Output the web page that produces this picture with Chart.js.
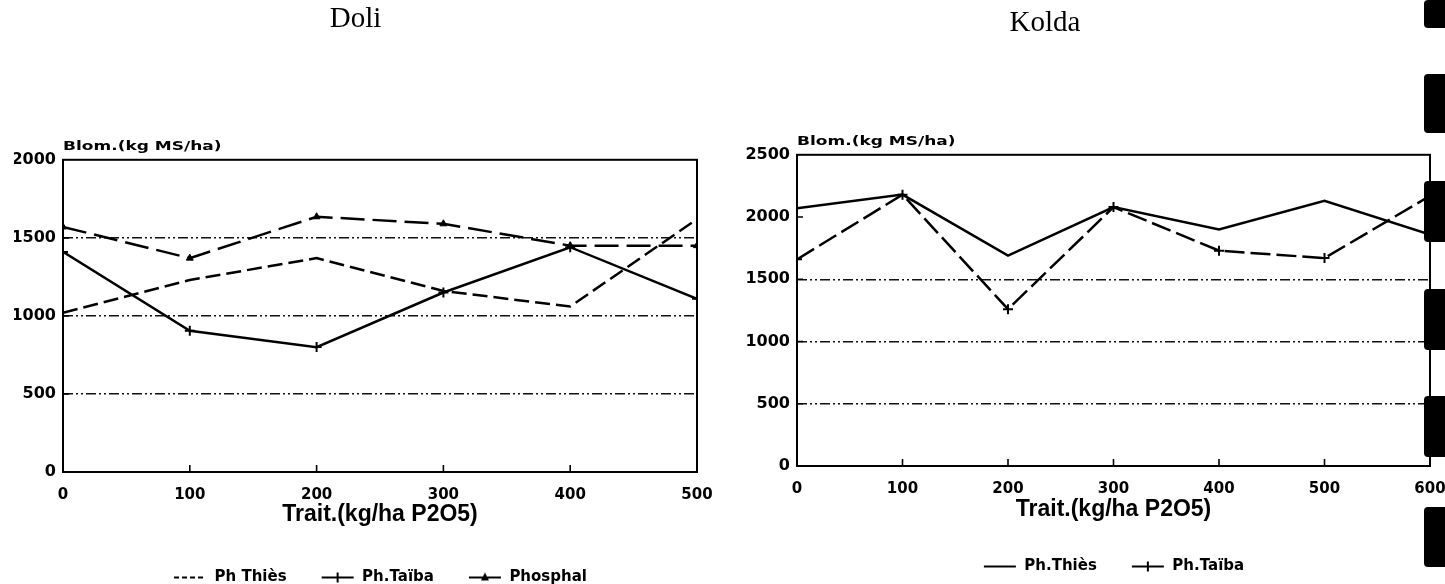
<!DOCTYPE html>
<html>
<head>
<meta charset="utf-8">
<script src="https://cdn.jsdelivr.net/npm/chart.js@4.4.1/dist/chart.umd.min.js"></script>
<style>
  html, body { margin: 0; padding: 0; background: #fff; width: 1445px; height: 584px; overflow: hidden; }
  #doli  { position: absolute; left: 0;     top: 0; }
  #kolda { position: absolute; left: 650px; top: 0; }
  .film { position: absolute; left: 1424px; width: 21px; background: #000; border-radius: 4px 0 0 4px; }
</style>
</head>
<body>
<canvas id="doli" width="720" height="595"></canvas>
<canvas id="kolda" width="795" height="584"></canvas>
<div class="film" style="top:0;height:28px"></div>
<div class="film" style="top:74px;height:59px"></div>
<div class="film" style="top:181px;height:61px"></div>
<div class="film" style="top:289px;height:61px"></div>
<div class="film" style="top:396px;height:61px"></div>
<div class="film" style="top:507px;height:60px"></div>
<script>
// Biomass (kg MS/ha) against phosphate dose (kg/ha P2O5)
const doliDoses    = [0, 100, 200, 300, 400, 500];
const doliThies    = [1020, 1230, 1370, 1160, 1060, 1620];
const doliTaiba    = [1410, 905, 800, 1150, 1440, 1110];
const doliPhosphal = [1570, 1370, 1635, 1590, 1450, 1450];

const koldaDoses = [0, 100, 200, 300, 400, 500, 600];
const koldaThies = [2070, 2180, 1690, 2080, 1900, 2130, 1860];
const koldaTaiba = [1660, 2180, 1260, 2080, 1730, 1670, 2170];

const doliYTicks  = [0, 500, 1000, 1500, 2000];
const koldaYTicks = [0, 500, 1000, 1500, 2000, 2500];
const doliXTicks  = [0, 100, 200, 300, 400, 500];
const koldaXTicks = [0, 100, 200, 300, 400, 500, 600];
const gridLevels  = [500, 1000, 1500];

const yTitle = 'Blom.(kg MS/ha)';
const xTitle = 'Trait.(kg/ha P2O5)';

Chart.defaults.color = '#000';
Chart.defaults.font.family = '"DejaVu Sans", Arial, sans-serif';

const INK = '#000';
const toPoints = (xs, ys) => xs.map((x, i) => ({ x, y: ys[i] }));

// small legend swatch: a line segment with an optional marker in the middle
function swatch(dash, marker) {
  const c = document.createElement('canvas');
  c.width = 34; c.height = 14;
  const g = c.getContext('2d');
  g.strokeStyle = INK; g.fillStyle = INK; g.lineWidth = 2;
  g.setLineDash(dash);
  g.beginPath(); g.moveTo(1, 7); g.lineTo(33, 7); g.stroke();
  g.setLineDash([]);
  if (marker === 'cross') {
    g.beginPath(); g.moveTo(17, 2); g.lineTo(17, 12); g.stroke();
  } else if (marker === 'triangle') {
    g.beginPath(); g.moveTo(17, 2); g.lineTo(21, 10); g.lineTo(13, 10); g.closePath(); g.fill();
  }
  return c;
}

// box around the plot, inward tick marks and the horizontal y-axis caption
const framePlugin = {
  id: 'frame',
  beforeDatasetsDraw(chart) {
    const { ctx, chartArea: a, scales: { x, y } } = chart;
    ctx.save();
    ctx.strokeStyle = INK;
    ctx.lineWidth = 2;
    ctx.strokeRect(a.left, a.top, a.width, a.height);
    ctx.lineWidth = 1.6;
    ctx.beginPath();
    x.ticks.forEach(t => {
      const px = x.getPixelForValue(t.value);
      if (px > a.left + 2 && px < a.right - 2) { ctx.moveTo(px, a.bottom); ctx.lineTo(px, a.bottom - 7); }
    });
    y.ticks.forEach(t => {
      const py = y.getPixelForValue(t.value);
      if (py > a.top + 2 && py < a.bottom - 2) { ctx.moveTo(a.left, py); ctx.lineTo(a.left + 6, py); }
    });
    ctx.stroke();
    ctx.restore();
  },
  afterDraw(chart, args, opts) {
    const { ctx, chartArea: a } = chart;
    ctx.save();
    ctx.font = 'bold 12.5px "DejaVu Sans", Arial, sans-serif';
    ctx.fillStyle = INK;
    ctx.textBaseline = 'alphabetic';
    ctx.translate(a.left, a.top - (opts.gap || 10));
    ctx.scale(1.36, 1);
    ctx.fillText(opts.text || '', 0, 0);
    ctx.restore();
  }
};

function makeChart(id, cfg) {
  const tickFont = { family: '"DejaVu Sans", Arial, sans-serif', size: 15, weight: 'bold' };
  const yTickFont = { family: '"DejaVu Sans", Arial, sans-serif', size: 16, weight: 'bold' };
  return new Chart(document.getElementById(id), {
    type: 'line',
    data: { datasets: cfg.datasets },
    options: {
      responsive: false,
      animation: false,
      events: [],
      layout: { autoPadding: false, padding: cfg.padding },
      elements: { line: { tension: 0, borderWidth: 2.5, borderColor: INK }, point: { radius: 0 } },
      scales: {
        x: {
          type: 'linear',
          min: cfg.xTicks[0], max: cfg.xTicks[cfg.xTicks.length - 1],
          afterBuildTicks: s => { s.ticks = cfg.xTicks.map(v => ({ value: v })); },
          afterFit: s => { s.height = cfg.xHeight; s.paddingLeft = 0; s.paddingRight = 0; },
          grid: { display: false },
          border: { display: false },
          ticks: { font: tickFont, padding: 6, maxRotation: 0, autoSkip: false, color: INK,
                   callback: v => String(v) },
          title: {
            display: true, text: xTitle, color: INK,
            font: { family: '"Liberation Sans", Arial, sans-serif', size: 23, weight: 'bold' },
            padding: { top: 0, bottom: cfg.xTitlePad }
          }
        },
        y: {
          type: 'linear',
          min: cfg.yTicks[0], max: cfg.yTicks[cfg.yTicks.length - 1],
          afterBuildTicks: s => { s.ticks = cfg.yTicks.map(v => ({ value: v })); },
          afterFit: s => { s.width = cfg.yWidth; s.paddingTop = 0; s.paddingBottom = 0; },
          grid: {
            drawTicks: false,
            lineWidth: 1.4,
            color: c => gridLevels.includes(c.tick.value) ? '#111' : 'rgba(0,0,0,0)'
          },
          border: { display: false, dash: [10, 3, 2, 3, 2, 3] },
          ticks: { font: yTickFont, padding: 7, color: INK, callback: v => String(v) }
        }
      },
      plugins: {
        title: {
          display: true, text: cfg.title, color: INK,
          font: { family: '"Liberation Serif", "Times New Roman", serif', size: 29, weight: 'normal' },
          padding: cfg.titlePad
        },
        legend: {
          display: true, position: 'bottom', fullSize: false,
          labels: {
            usePointStyle: true, pointStyleWidth: 34, padding: 34, color: INK,
            font: { family: '"DejaVu Sans", Arial, sans-serif', size: 15, weight: 'bold' },
            generateLabels: ch => ch.data.datasets.map((d, i) => ({
              text: d.label, pointStyle: d.legendSwatch, fontColor: INK,
              hidden: false, datasetIndex: i, lineWidth: 0, strokeStyle: INK, fillStyle: INK
            }))
          }
        },
        tooltip: { enabled: false },
        frame: { text: yTitle, gap: cfg.yTitleGap }
      }
    },
    plugins: [framePlugin]
  });
}

makeChart('doli', {
  title: 'Doli',
  titlePad: { top: 2, bottom: 123 },
  padding: { left: 14, right: 23, top: 0, bottom: 0 },
  yWidth: 49, xHeight: 64, xTitlePad: 8, yTitleGap: 10,
  xTicks: doliXTicks, yTicks: doliYTicks,
  datasets: [
    { label: 'Ph Thiès', data: toPoints(doliDoses, doliThies), borderDash: [15, 6],
      legendSwatch: swatch([5, 3], null) },
    { label: 'Ph.Taïba', data: toPoints(doliDoses, doliTaiba),
      pointStyle: 'cross', pointRadius: 5, pointBorderWidth: 2, pointBorderColor: INK,
      legendSwatch: swatch([], 'cross') },
    { label: 'Phosphal', data: toPoints(doliDoses, doliPhosphal), borderDash: [24, 8],
      pointStyle: 'triangle', pointRadius: 4, pointBackgroundColor: INK, pointBorderColor: INK,
      legendSwatch: swatch([], 'triangle') }
  ]
});

makeChart('kolda', {
  title: 'Kolda',
  titlePad: { top: 6, bottom: 114 },
  padding: { left: 10, right: 15, top: 0, bottom: 0 },
  yWidth: 137, xHeight: 59, xTitlePad: 2, yTitleGap: 10,
  xTicks: koldaXTicks, yTicks: koldaYTicks,
  datasets: [
    { label: 'Ph.Thiès', data: toPoints(koldaDoses, koldaThies),
      legendSwatch: swatch([], null) },
    { label: 'Ph.Taïba', data: toPoints(koldaDoses, koldaTaiba), borderDash: [20, 6],
      pointStyle: 'cross', pointRadius: 5, pointBorderWidth: 2, pointBorderColor: INK,
      legendSwatch: swatch([], 'cross') }
  ]
});
</script>
</body>
</html>
